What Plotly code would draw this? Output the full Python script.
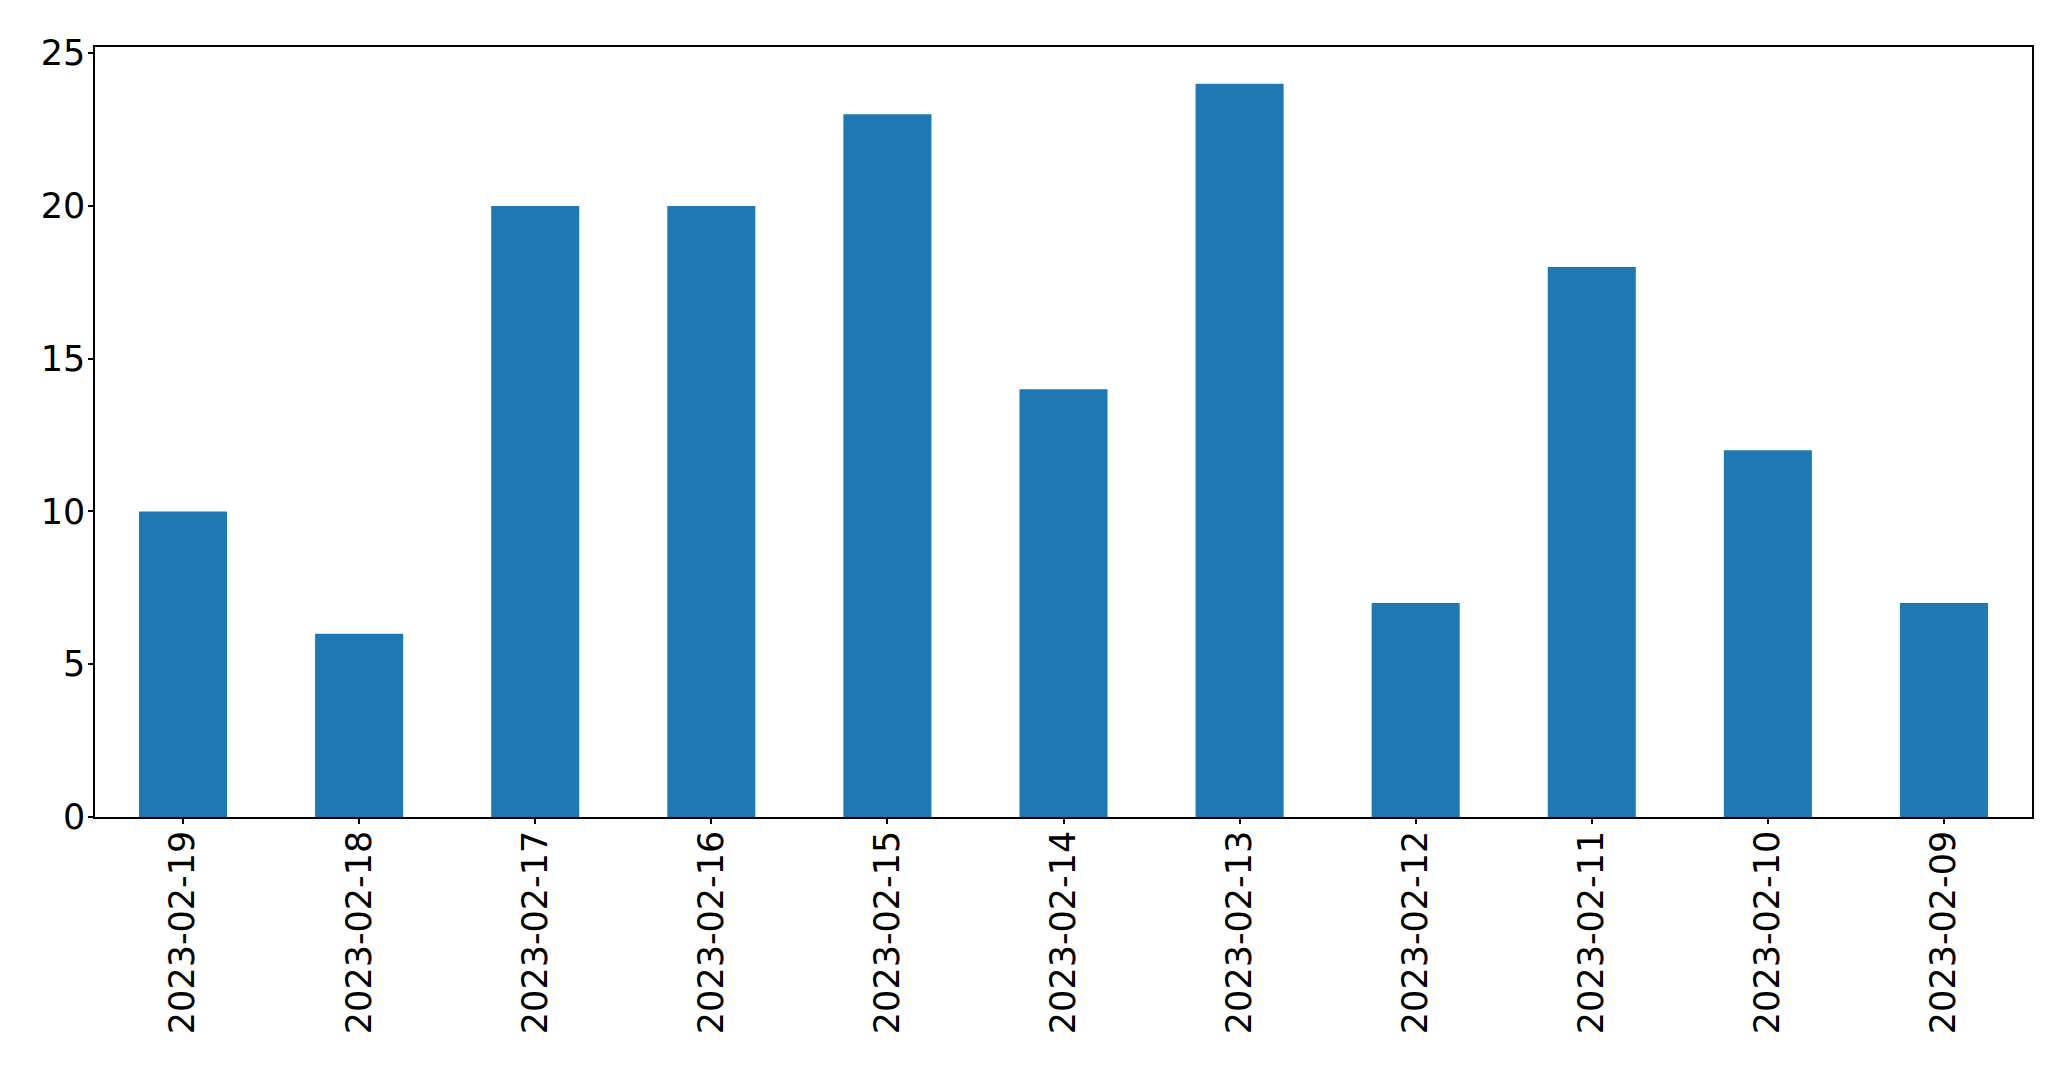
import plotly.graph_objects as go

dates = ["2023-02-19", "2023-02-18", "2023-02-17", "2023-02-16", "2023-02-15",
         "2023-02-14", "2023-02-13", "2023-02-12", "2023-02-11", "2023-02-10", "2023-02-09"]
counts = [10, 6, 20, 20, 23, 14, 24, 7, 18, 12, 7]
y_ticks = [0, 5, 10, 15, 20, 25]

fig = go.Figure(go.Bar(x=dates, y=counts, width=0.5, marker=dict(color="#1f77b4", line=dict(width=0))))

fig.update_layout(
    width=2071, height=1069,
    margin=dict(l=95, r=39, t=47, b=252),
    paper_bgcolor="white", plot_bgcolor="white",
    font=dict(family="DejaVu Sans", size=35, color="black"),
    showlegend=False,
)
fig.update_xaxes(
    type="category", range=[-0.5, 10.5], tickangle=-90,
    showline=True, linecolor="black", linewidth=1.5, mirror=True,
    ticks="outside", ticklen=5, tickwidth=1.5, tickcolor="black",
    showgrid=False, zeroline=False, ticklabelstandoff=-7,
)
fig.update_yaxes(
    range=[0, 25.2], tickvals=y_ticks,
    showline=True, linecolor="black", linewidth=1.5, mirror=True,
    ticks="outside", ticklen=5, tickwidth=1.5, tickcolor="black",
    showgrid=False, zeroline=False, ticklabelstandoff=-4,
)
fig.write_html("out.html", config={"displayModeBar": False},
               post_script="document.body.style.margin='0';document.body.style.overflow='hidden';")
